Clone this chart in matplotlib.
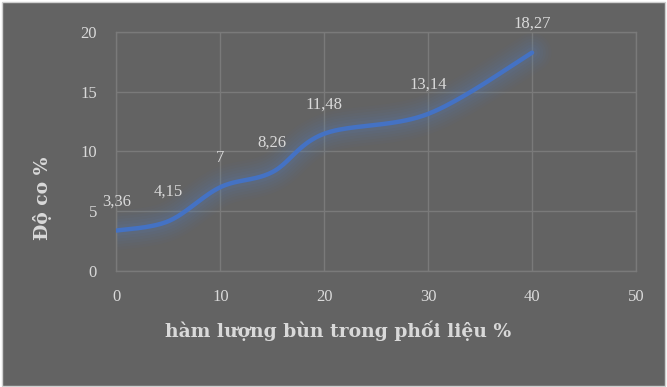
import numpy as np
import matplotlib
matplotlib.use("Agg")
import matplotlib.pyplot as plt
from matplotlib.patches import Rectangle

x_vals = [0, 5, 10, 15, 20, 30, 40]
y_vals = [3.36, 4.15, 7, 8.26, 11.48, 13.14, 18.27]
labels = ["3,36", "4,15", "7", "8,26", "11,48", "13,14", "18,27"]
x_ticks = [0, 10, 20, 30, 40, 50]
y_ticks = [0, 5, 10, 15, 20]
x_title = "hàm lượng bùn trong phối liệu %"
y_title = "Độ co %"

BG = "#636363"
TXT = "#d9d9d9"
GRID = "#7a7a7a"
LINE = "#4472c4"
FONT = "Liberation Serif"
TFONT = "DejaVu Serif"

def smooth(xs, ys, n=40):
    P = np.column_stack([xs, ys]).astype(float)
    out = []
    for i in range(len(P) - 1):
        p0 = P[i - 1] if i > 0 else P[i]
        p1 = P[i]
        p2 = P[i + 1]
        p3 = P[i + 2] if i + 2 < len(P) else P[i + 1]
        c1 = p1 + (p2 - p0) / 6.0
        c2 = p2 - (p3 - p1) / 6.0
        t = np.linspace(0, 1, n)[:, None]
        seg = ((1 - t) ** 3) * p1 + 3 * ((1 - t) ** 2) * t * c1 + 3 * (1 - t) * t ** 2 * c2 + t ** 3 * p2
        out.append(seg if i == 0 else seg[1:])
    s = np.vstack(out)
    return s[:, 0], s[:, 1]

fig = plt.figure(figsize=(6.67, 3.87), dpi=100, facecolor="white")
fig.patches.append(Rectangle((2 / 667, 1 / 387), 663 / 667, 384 / 387, transform=fig.transFigure,
                             facecolor=BG, edgecolor="#d0d0d0", linewidth=1.0, zorder=-10))

ax = fig.add_axes([116.5 / 667, 1 - 270.7 / 387, (636 - 116.5) / 667, (270.7 - 32) / 387])
ax.set_facecolor(BG)
ax.set_xlim(0, 50)
ax.set_ylim(0, 20)
ax.set_xticks(x_ticks)
ax.set_yticks(y_ticks)
ax.grid(True, color=GRID, linewidth=1.0)
ax.set_axisbelow(True)
for s in ax.spines.values():
    s.set_color(GRID)
    s.set_linewidth(1.0)
ax.tick_params(length=0, colors=TXT, labelsize=12)
ax.tick_params(axis="x", pad=13)
ax.tick_params(axis="y", pad=14)
for lab in ax.get_xticklabels() + ax.get_yticklabels():
    lab.set_fontfamily(FONT)
    lab.set_color(TXT)

sx, sy = smooth(x_vals, y_vals)
for w, a in [(28, 0.04), (24, 0.05), (20, 0.06), (16, 0.07), (12, 0.09), (8, 0.11)]:
    ax.plot(sx, sy, color="#5a7bb0", linewidth=w, alpha=a, solid_capstyle="round", zorder=2)
ax.plot(sx, sy, color=LINE, linewidth=3.2, solid_capstyle="round", zorder=3)

for xv, yv, lb in zip(x_vals, y_vals, labels):
    ax.annotate(lb, (xv, yv), xytext=(0, 21), textcoords="offset points", ha="center", va="center",
                color=TXT, fontsize=12, fontfamily=FONT, zorder=5, annotation_clip=False)

fig.text(338 / 667, 1 - 331 / 387, x_title, ha="center", va="center", color=TXT, fontsize=13.5,
         fontweight="bold", fontfamily=TFONT)
fig.text(42 / 667, 1 - 198 / 387, y_title, ha="center", va="center", color=TXT, fontsize=13.5,
         fontweight="bold", fontfamily=TFONT, rotation=90)

fig.savefig("out.png", dpi=100, facecolor=fig.get_facecolor())
